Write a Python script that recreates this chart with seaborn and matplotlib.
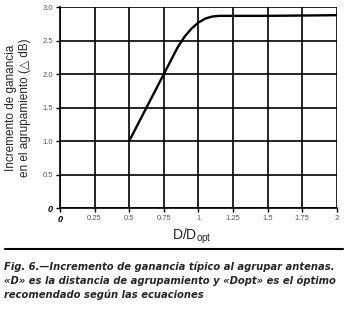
import matplotlib
matplotlib.use("Agg")
import matplotlib.pyplot as plt
import seaborn as sns
import pandas as pd

sns.set_theme(style="white")
plt.rcParams['font.family'] = ['Liberation Sans', 'DejaVu Sans']

ratio = [0.5, 0.75, 0.85, 0.9, 0.95, 1.0, 1.05, 1.1, 1.15, 1.25, 1.5, 1.75, 2.0]
gain = [1.0, 2.0, 2.4, 2.56, 2.68, 2.77, 2.83, 2.86, 2.87, 2.87, 2.87, 2.875, 2.88]
xticks = [0, 0.25, 0.5, 0.75, 1, 1.25, 1.5, 1.75, 2]
xlabels = ["0", "0.25", "0.5", "0.75", "1", "1.25", "1.5", "1.75", "2"]
yticks = [0, 0.5, 1.0, 1.5, 2.0, 2.5, 3.0]
ylabels = ["0", "0.5", "1.0", "1.5", "2.0", "2.5", "3.0"]

df = pd.DataFrame({"ratio": ratio, "gain": gain})

fig = plt.figure(figsize=(3.5, 3.11), dpi=100)
ax = fig.add_axes([0.171, 0.331, 0.792, 0.646])
sns.lineplot(data=df, x="ratio", y="gain", ax=ax, color="black", linewidth=1.7)

ax.set_xlim(0, 2)
ax.set_ylim(0, 3.0)
ax.set_xticks(xticks)
ax.set_xticklabels(xlabels, fontsize=5.5, color="#555555")
ax.set_yticks(yticks)
ax.set_yticklabels(ylabels, fontsize=5.5, color="#555555")
for lbl in ax.get_xticklabels()[:1] + ax.get_yticklabels()[:1]:
    lbl.set_fontweight("bold")
    lbl.set_fontstyle("italic")
    lbl.set_color("black")
    lbl.set_fontsize(6.5)
ax.grid(True, color="black", linewidth=1.2)
for s in ["top", "right"]:
    ax.spines[s].set_visible(False)
for s in ["left", "bottom"]:
    ax.spines[s].set_color("black")
    ax.spines[s].set_linewidth(1.2)
ax.tick_params(axis="both", which="both", length=3, width=1, color="black",
               bottom=True, left=True, pad=2)
ax.set_xlabel("D/D$_{\\mathregular{opt}}$", fontsize=10)
ax.xaxis.set_label_coords(0.475, -0.092)
ax.set_ylabel("Incremento de ganancia\nen el agrupamiento (\u25b3 dB)", fontsize=8.5, labelpad=8)

fig.add_artist(plt.Line2D([0.015, 0.98], [0.2, 0.2], transform=fig.transFigure,
                          color="black", linewidth=1.5))
fig.text(0.01, 0.035,
         "Fig. 6.\u2014Incremento de ganancia t\u00edpico al agrupar antenas.\n"
         "\u00abD\u00bb es la distancia de agrupamiento y \u00abDopt\u00bb es el \u00f3ptimo\n"
         "recomendado seg\u00fan las ecuaciones",
         fontsize=7.2, style="italic", fontweight="bold", ha="left", va="bottom",
         linespacing=1.4, family=["DejaVu Sans"])

fig.savefig("out.png", dpi=100)
